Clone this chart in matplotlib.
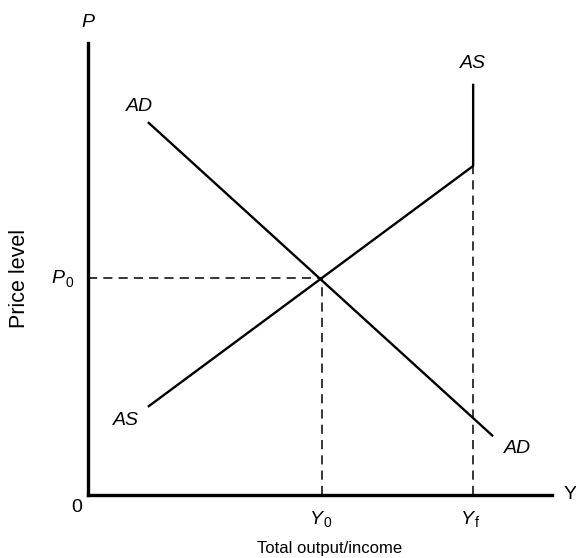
import matplotlib
matplotlib.use("Agg")
import matplotlib.pyplot as plt

# Data (arbitrary units)
ad_x = [1.29, 8.73]
ad_y = [8.25, 1.30]
as_x = [1.29, 8.30, 8.30]
as_y = [1.95, 7.28, 9.10]
Y0 = 5.04
Yf = 8.30
P0 = 4.80
AS_kink = 7.28

plt.rcParams['font.family'] = ['Liberation Sans', 'DejaVu Sans']

fig = plt.figure(figsize=(5.76, 5.58), dpi=100)
ax = fig.add_axes([0.1528, 0.1129, 0.8056, 0.81])
ax.set_xlim(0, 10)
ax.set_ylim(0, 10)

for s in ['top', 'right']:
    ax.spines[s].set_visible(False)
for s in ['left', 'bottom']:
    ax.spines[s].set_linewidth(2.4)
    ax.spines[s].set_color('black')
ax.set_xticks([])
ax.set_yticks([])

ax.plot(ad_x, ad_y, color='black', lw=1.7, solid_capstyle='butt')
ax.plot(as_x, as_y, color='black', lw=1.7, solid_capstyle='butt')

dash = dict(color='black', lw=1.1, dashes=(6, 4))
ax.plot([0, Y0], [P0, P0], **dash)
ax.plot([Y0, Y0], [0, P0], **dash)
ax.plot([Yf, Yf], [0, AS_kink], **dash)

lab = dict(fontsize=14, style='italic', ha='center', va='center')
ax.text(1.1, 8.6, 'AD', **lab)
ax.text(8.3, 9.55, 'AS', **lab)
ax.text(0.82, 1.64, 'AS', **lab)
ax.text(9.26, 1.02, 'AD', **lab)

ax.text(-0.50, P0, 'P', fontsize=14, style='italic', ha='right', va='center')
ax.text(-0.48, P0 - 0.1, '0', fontsize=10, ha='left', va='center')
ax.text(Y0 + 0.02, -0.55, 'Y', fontsize=14, style='italic', ha='right', va='center')
ax.text(Y0 + 0.04, -0.63, '0', fontsize=10, ha='left', va='center')
ax.text(Yf + 0.02, -0.55, 'Y', fontsize=14, style='italic', ha='right', va='center')
ax.text(Yf + 0.04, -0.63, 'f', fontsize=10, ha='left', va='center')
ax.text(-0.25, -0.28, '0', fontsize=14, ha='center', va='center')
ax.text(10.38, 0.02, 'Y', fontsize=14, ha='center', va='center', clip_on=False)
ax.text(0.0, 10.46, 'P', fontsize=14, style='italic', ha='center', va='center')

fig.text(330/576, 1 - 548/558, 'Total output/income', fontsize=12, ha='center', va='center')
fig.text(20/576, 1 - 278/558, 'Price level', fontsize=15.5, ha='center', va='center', rotation=90)

fig.savefig('out.png', dpi=100)
